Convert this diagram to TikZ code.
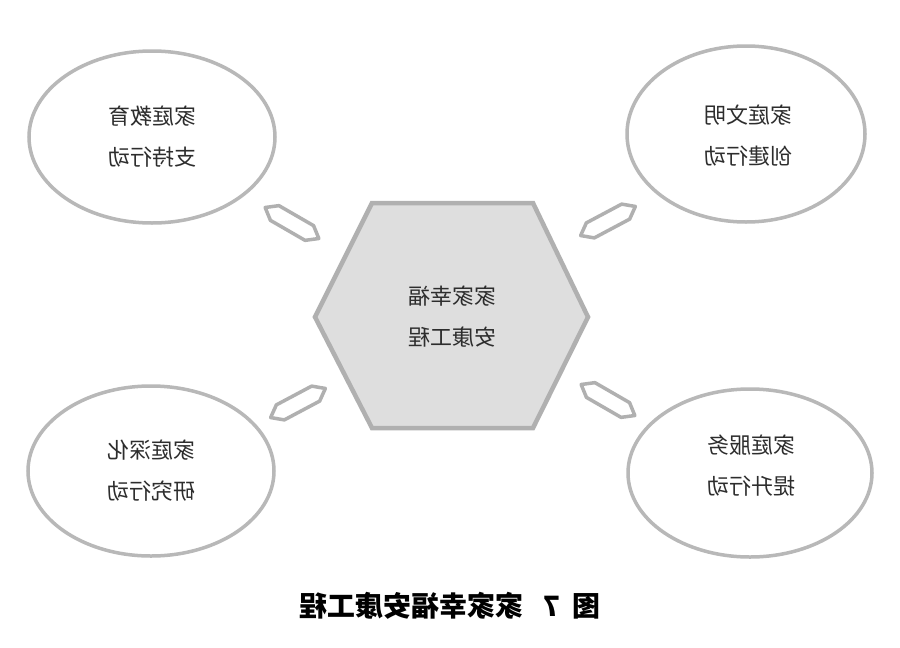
\documentclass[tikz,border=0pt]{standalone}
\usepackage{fontspec}
\newfontfamily\cjk{Noto Sans CJK SC}
\usepackage{tikz}
\usetikzlibrary{shapes.geometric, positioning}
\definecolor{ringgray}{RGB}{184,184,184}
\definecolor{hexgray}{RGB}{176,176,176}
\definecolor{hexfill}{RGB}{222,222,222}
\definecolor{inkgray}{RGB}{45,45,45}

\begin{document}
\begin{tikzpicture}[x=1pt, y=-1pt,
  ring/.style={draw=ringgray, line width=3.5pt, ellipse, fill=white, inner sep=0pt,
    minimum width=246pt, minimum height=172pt},
  mirrortext/.style={xscale=-1, text=inkgray, align=center, font=\cjk\fontsize{22}{41}\selectfont},
  pointer/.style={draw=hexgray, line width=3.5pt, fill=white, line join=round}]

  \fill[white] (0,0) rectangle (900,648);
  \useasboundingbox (0,0) rectangle (900,648);

  % Central hexagon
  \draw[draw=hexgray, line width=4.5pt, fill=hexfill, line join=miter]
    (315,317) -- (372,203) -- (533,203) -- (588,317) -- (533,428) -- (372,428) -- cycle;
  \node[mirrortext] (core) at (452,317) {家家幸福\\安康工程};

  % Four actions
  \node[ring] (edu) at (152,137) {};
  \node[mirrortext] (edutxt) at (edu.center) {家庭教育\\支持行动};

  \node[ring, minimum width=238pt, minimum height=176pt] (civ) at (746,134) {};
  \node[mirrortext] (civtxt) at (748,136) {家庭文明\\创建行动};

  \node[ring, minimum width=246pt, minimum height=170pt] (res) at (151,471) {};
  \node[mirrortext] (restxt) at (res.center) {家庭深化\\研究行动};

  \node[ring, minimum width=244pt, minimum height=168pt] (srv) at (750,473) {};
  \node[mirrortext] (srvtxt) at (751,466) {家庭服务\\提升行动};

  % Pointers between core and actions
  \foreach \cx/\cy/\ang in {292/223/-30, 298/403/28, 608/221/28, 608/400/-30}
    \draw[pointer, shift={(\cx,\cy)}, rotate=\ang]
      (-31,0) -- (-20,8.5) -- (20,8.5) -- (31,0) -- (20,-8.5) -- (-20,-8.5) -- cycle;

  % Caption
  \node[xscale=-1, font=\cjk\bfseries\fontsize{28}{30}\selectfont, inner sep=0pt] (cap) at (450,606)
    {图\hspace{12pt}7\hspace{20pt}家家幸福安康工程};
\end{tikzpicture}
\end{document}
